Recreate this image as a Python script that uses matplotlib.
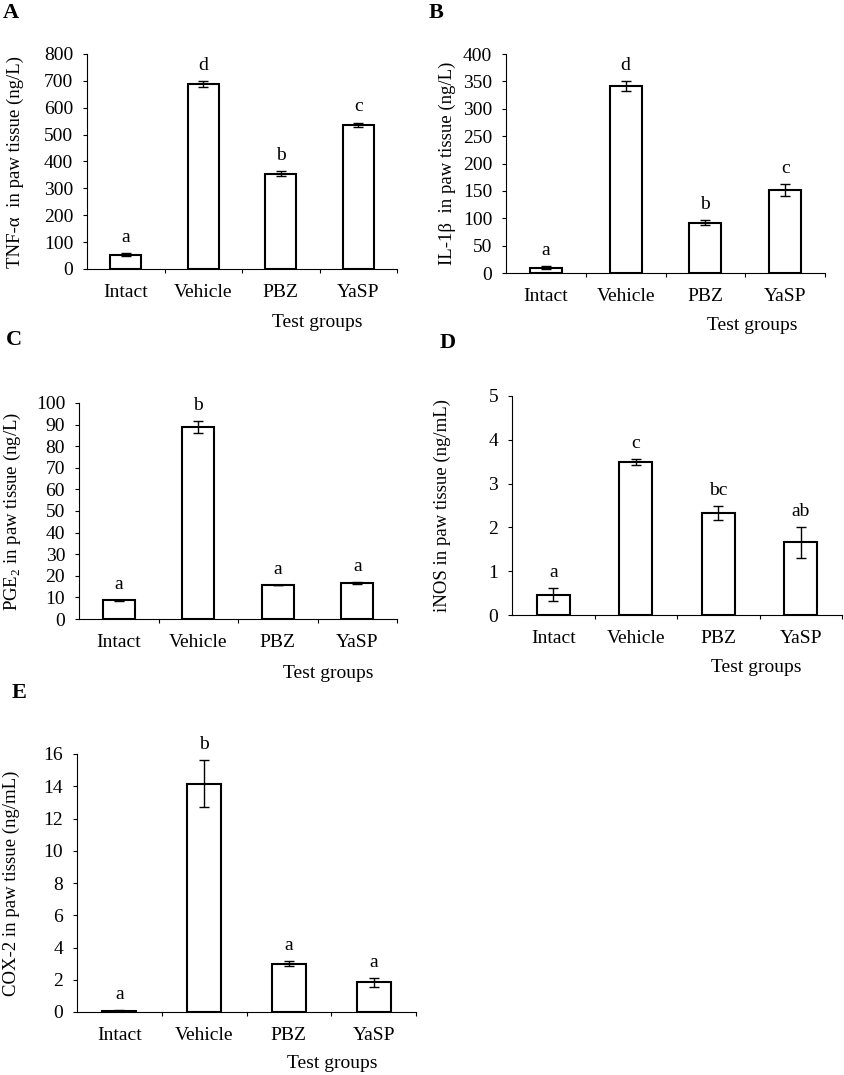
import numpy as np
import matplotlib.pyplot as plt

plt.rcParams['font.family'] = ['Liberation Serif', 'DejaVu Serif']
plt.rcParams['mathtext.fontset'] = 'custom'
plt.rcParams['mathtext.rm'] = 'Liberation Serif'

groups = ['Intact', 'Vehicle', 'PBZ', 'YaSP']

# A: TNF-alpha (ng/L)
tnf_mean = [53, 688, 355, 536]
tnf_err = [6, 12, 9, 9]
tnf_sig = ['a', 'd', 'b', 'c']

# B: IL-1beta (ng/L)
il1b_mean = [10, 341, 92, 152]
il1b_err = [2, 9, 4.5, 11]
il1b_sig = ['a', 'd', 'b', 'c']

# C: PGE2 (ng/L)
pge2_mean = [8.6, 88.9, 15.7, 16.7]
pge2_err = [0.1, 2.9, 0.1, 0.3]
pge2_sig = ['a', 'b', 'a', 'a']

# D: iNOS (ng/mL)
inos_mean = [0.46, 3.50, 2.33, 1.66]
inos_err = [0.15, 0.07, 0.15, 0.35]
inos_sig = ['a', 'c', 'bc', 'ab']

# E: COX-2 (ng/mL)
cox2_mean = [0.08, 14.16, 3.0, 1.84]
cox2_err = [0.02, 1.44, 0.15, 0.26]
cox2_sig = ['a', 'b', 'a', 'a']

W, H = 844, 1075
FS = 14       # tick labels, letters
FS_LAB = 13.5  # axis titles


def px_rect(l, t, r, b):
    return [l / W, 1 - b / H, (r - l) / W, (b - t) / H]


def panel(fig, rect, mean, err, sig, ymax, ystep, ylabel, ylab_cx,
          xlab_c, letter, letter_xy):
    l, t, r, b = rect
    ax = fig.add_axes(px_rect(*rect))
    x = np.arange(len(groups)) + 0.5
    ax.bar(x, mean, width=0.4, color='white', edgecolor='black',
           linewidth=1.5, zorder=2)
    ax.errorbar(x, mean, yerr=err, fmt='none', ecolor='black',
                elinewidth=1, capsize=3.5, capthick=1, zorder=3)
    for xi, m, e, s in zip(x, mean, err, sig):
        ax.annotate(s, (xi, m + e), xytext=(0, 8), textcoords='offset points',
                    ha='center', va='baseline', fontsize=FS)

    ax.set_xlim(0, len(groups))
    ax.set_ylim(0, ymax)
    ax.set_yticks(np.arange(0, ymax + ystep / 2, ystep))
    ax.set_xticks(x)
    ax.set_xticklabels(groups)
    ax.set_xticks(np.arange(1, len(groups) + 1), minor=True)
    ax.tick_params(axis='x', which='major', length=0, pad=11, labelsize=FS)
    ax.tick_params(axis='x', which='minor', length=3, width=0.8, direction='out')
    ax.tick_params(axis='y', length=3, width=0.8, pad=7, labelsize=FS)
    for s in ['top', 'right']:
        ax.spines[s].set_visible(False)
    for s in ['left', 'bottom']:
        ax.spines[s].set_linewidth(0.8)

    ax.set_ylabel(ylabel, fontsize=FS_LAB, va='center')
    ax.yaxis.set_label_coords((ylab_cx - l) / (r - l), 0.5)
    ax.set_xlabel('Test groups', fontsize=FS, va='center')
    ax.xaxis.set_label_coords((xlab_c[0] - l) / (r - l), -(xlab_c[1] - b) / (b - t))

    fig.text(letter_xy[0] / W, 1 - letter_xy[1] / H, letter, fontsize=16,
             fontweight='bold', ha='left', va='top')
    return ax


fig = plt.figure(figsize=(W / 100, H / 100), dpi=100)

panel(fig, (87, 54, 397, 269), tnf_mean, tnf_err, tnf_sig, 800, 100,
      'TNF-α  in paw tissue (ng/L)', 15, (317, 323), 'A', (3, 3))
panel(fig, (506, 54, 825, 273), il1b_mean, il1b_err, il1b_sig, 400, 50,
      'IL-1β  in paw tissue (ng/L)', 447, (752, 325), 'B', (429, 3))
panel(fig, (79, 403, 397, 619), pge2_mean, pge2_err, pge2_sig, 100, 10,
      r'PGE$_\mathregular{2}$ in paw tissue (ng/L)', 12, (328, 674), 'C', (6, 330))
panel(fig, (512, 396, 842, 615), inos_mean, inos_err, inos_sig, 5, 1,
      'iNOS in paw tissue (ng/mL)', 442, (756, 668), 'D', (440, 333))
panel(fig, (77, 754, 416, 1012), cox2_mean, cox2_err, cox2_sig, 16, 2,
      'COX-2 in paw tissue (ng/mL)', 11, (332, 1063), 'E', (12, 683))

fig.savefig('out.png', dpi=100)
